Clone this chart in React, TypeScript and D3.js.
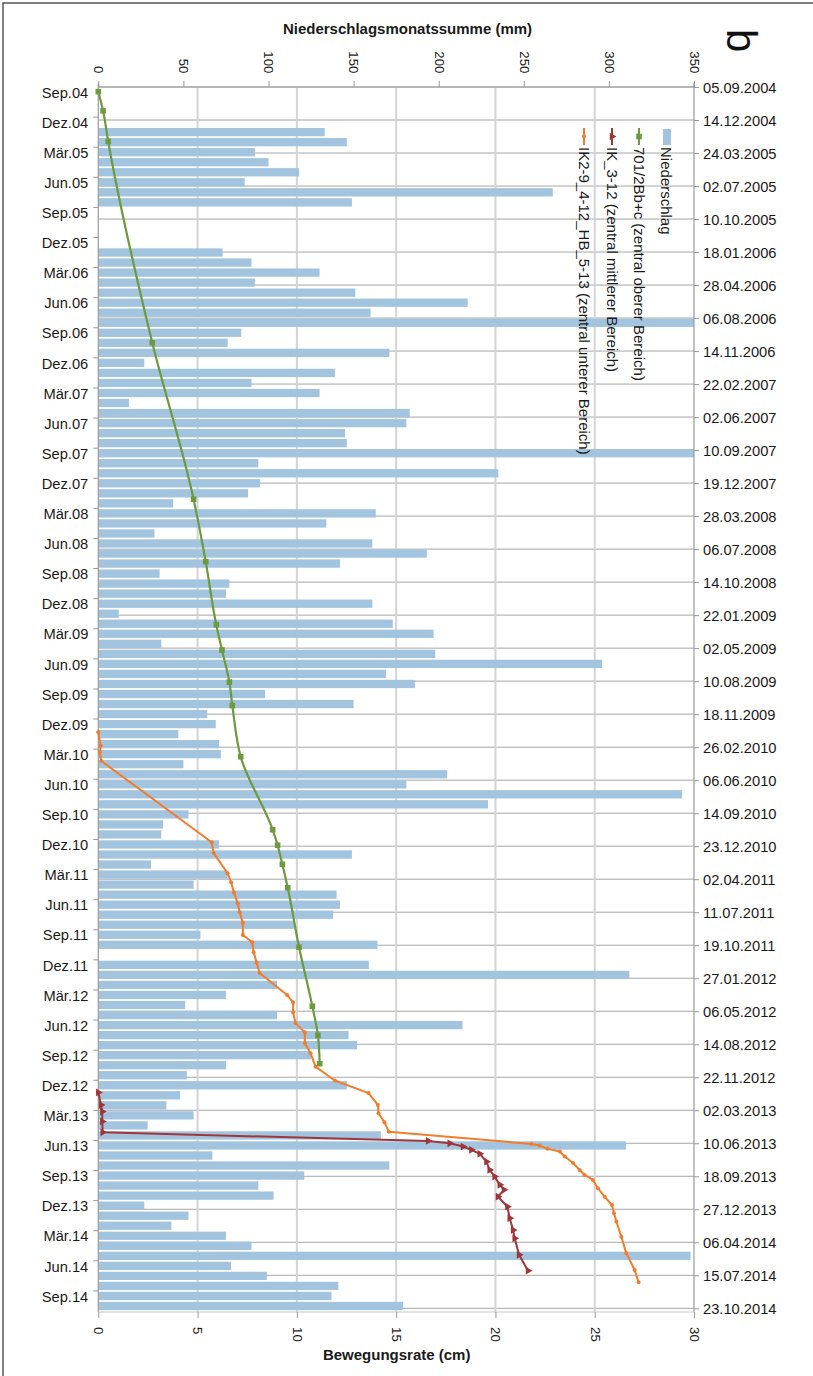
import * as d3 from "d3";
import React, { useRef, useEffect } from "react";

const width = 813;
const height = 1376;
const font = "Liberation Sans, Arial, Helvetica, sans-serif";

// category axis: one entry per month, Sep 2004 .. Oct 2014
const monthNames = ["Jan", "Feb", "Mär", "Apr", "Mai", "Jun", "Jul", "Aug", "Sep", "Okt", "Nov", "Dez"];
const firstMonth = new Date(2004, 8, 1);
const lastMonth = new Date(2014, 9, 1);

// Niederschlagsmonatssumme in mm, Sep 2004 .. Oct 2014 (null = kein Wert)
const niederschlag = [
  null, null, null, null, // 2004
  133, 146, 92, 100, 118, 86, 267, 149, null, null, null, null, // 2005
  73, 90, 130, 92, 151, 217, 160, 350, 84, 76, 171, 27, // 2006
  139, 90, 130, 18, 183, 181, 145, 146, 350, 94, 235, 95, // 2007
  88, 44, 163, 134, 33, 161, 193, 142, 36, 77, 75, 161, // 2008
  12, 173, 197, 37, 198, 296, 169, 186, 98, 150, 64, 69, // 2009
  47, 71, 72, 50, 205, 181, 343, 229, 53, 38, 37, 71, // 2010
  149, 31, 76, 56, 140, 142, 138, 115, 60, 164, null, 159, // 2011
  312, 105, 75, 51, 105, 214, 147, 152, 125, 75, 52, 146, // 2012
  48, 40, 56, 29, 166, 310, 67, 171, 121, 94, 103, 27, // 2013
  53, 43, 75, 90, 348, 78, 99, 141, 137, 179, // 2014
];

// 701/2Bb+c (zentral oberer Bereich)
const datum701 = [
  "2004-09-19", "2004-11-16", "2005-02-17", "2006-10-20", "2008-02-06", "2008-08-13",
  "2009-02-20", "2009-05-08", "2009-08-13", "2009-10-23", "2010-03-27", "2010-11-03",
  "2010-12-20", "2011-02-16", "2011-04-28", "2011-10-25", "2012-04-21", "2012-07-18", "2012-10-12",
];
const wert701 = [
  0, 0.24, 0.5, 2.72, 4.8, 5.41, 5.94, 6.23, 6.6, 6.75, 7.17, 8.78, 9.03, 9.27, 9.54, 10.11, 10.78, 11.06, 11.15,
];

// IK_3-12 (zentral mittlerer Bereich)
const datumIK3 = [
  "2013-01-07", "2013-02-14", "2013-03-06", "2013-04-05", "2013-05-08", "2013-06-03", "2013-06-10",
  "2013-06-20", "2013-06-30", "2013-07-12", "2013-08-05", "2013-08-30", "2013-09-19", "2013-10-14",
  "2013-10-29", "2013-11-19", "2013-12-19", "2014-01-23", "2014-02-28", "2014-03-25", "2014-05-14", "2014-07-01",
];
const wertIK3 = [
  0, 0.14, 0.2, 0.2, 0.22, 16.61, 17.7, 18.37, 18.79, 19.21, 19.55, 19.71, 19.96, 20.22, 20.43, 20.13, 20.6,
  20.72, 20.89, 20.97, 21.19, 21.64,
];

// IK2-9_4-12_HB_5-13 (zentral unterer Bereich)
const datumIK2 = [
  "2010-01-12", "2010-02-22", "2010-03-13", "2010-04-09", "2010-12-11", "2011-01-13", "2011-03-15",
  "2011-04-11", "2011-05-12", "2011-06-14", "2011-07-11", "2011-08-13", "2011-09-18", "2011-10-10",
  "2011-11-09", "2011-12-10", "2012-01-11", "2012-03-18", "2012-04-09", "2012-05-09", "2012-06-11",
  "2012-07-09", "2012-08-11", "2012-09-10", "2012-10-21", "2012-12-02", "2013-01-09", "2013-02-14",
  "2013-03-11", "2013-04-07", "2013-05-06", "2013-06-12", "2013-06-17", "2013-06-27", "2013-07-05",
  "2013-07-20", "2013-08-09", "2013-08-30", "2013-09-14", "2013-09-29", "2013-10-24", "2013-11-19",
  "2013-12-14", "2014-01-08", "2014-02-02", "2014-03-20", "2014-05-09", "2014-06-29", "2014-08-05",
];
const wertIK2 = [
  0, 0.12, 0.08, 0.15, 5.71, 5.81, 6.51, 6.69, 6.83, 7.02, 7.12, 7.28, 7.28, 7.75, 7.82, 7.97, 8.12, 9.51,
  9.81, 9.81, 9.93, 10.4, 10.4, 10.69, 10.94, 11.91, 13.61, 14.08, 14.11, 14.41, 14.63, 21.81, 22.23, 22.62,
  23.24, 23.49, 23.91, 24.24, 24.49, 24.91, 25.16, 25.5, 25.87, 25.97, 26.09, 26.34, 26.59, 27.01, 27.21,
];

// axis ticks
const mmTicks = [0, 50, 100, 150, 200, 250, 300, 350];
const cmTicks = [0, 5, 10, 15, 20, 25, 30];
const dateStart = new Date(2004, 8, 5);
const dateEnd = new Date(2014, 9, 23);
const dateStepDays = 100;

const legendItems = [
  { name: "Niederschlag", type: "bar", color: "#a3c4df" },
  { name: "701/2Bb+c (zentral oberer Bereich)", type: "square", color: "#6d9a3d" },
  { name: "IK_3-12 (zentral mittlerer Bereich)", type: "triangle", color: "#a0363a" },
  { name: "IK2-9_4-12_HB_5-13 (zentral unterer Bereich)", type: "circle", color: "#f27c2a" },
];

const parse = d3.timeParse("%Y-%m-%d");

function App() {
  const ref = useRef<SVGSVGElement>(null);

  useEffect(() => {
    draw();
  }, []);

  const draw = () => {
    const svg = d3.select(ref.current);
    svg.selectAll("*").remove();

    const plot = { left: 98.3, right: 694, top: 87, bottom: 1312 };

    const months = d3.timeMonth.range(firstMonth, d3.timeMonth.offset(lastMonth, 1));
    const xMm = d3.scaleLinear().domain([0, 350]).range([plot.left, plot.right]);
    const xCm = d3.scaleLinear().domain([0, 30]).range([plot.left, plot.right]);
    const yTime = d3.scaleTime().domain([dateStart, dateEnd]).range([plot.top, 1308.3]);
    const yMonth = d3
      .scalePoint<number>()
      .domain(d3.range(months.length))
      .range([92, 1306]);

    const dateTicks = d3
      .range(0, d3.timeDay.count(dateStart, dateEnd) + 1, dateStepDays)
      .map((d) => d3.timeDay.offset(dateStart, d));

    // outer frame
    svg.append("rect").attr("width", width).attr("height", height).attr("fill", "#fff");
    svg
      .append("path")
      .attr("d", `M3,${height} V3 H${width}`)
      .attr("fill", "none")
      .attr("stroke", "#555")
      .attr("stroke-width", 1.5);

    const chart = svg.append("g");

    // gridlines
    chart
      .selectAll(".hgrid")
      .data(dateTicks)
      .join("line")
      .attr("x1", plot.left)
      .attr("x2", plot.right)
      .attr("y1", (d) => yTime(d))
      .attr("y2", (d) => yTime(d))
      .attr("stroke", "#a6a6a6")
      .attr("stroke-width", 1);

    chart
      .selectAll(".vgrid")
      .data(cmTicks.slice(1, -1))
      .join("line")
      .attr("x1", (d) => xCm(d))
      .attr("x2", (d) => xCm(d))
      .attr("y1", plot.top)
      .attr("y2", plot.bottom)
      .attr("stroke", "#d4d4d4")
      .attr("stroke-width", 2);

    // bars
    svg
      .append("clipPath")
      .attr("id", "plotclip")
      .append("rect")
      .attr("x", plot.left)
      .attr("y", plot.top)
      .attr("width", plot.right - plot.left)
      .attr("height", plot.bottom - plot.top);

    const barH = 8.3;
    chart
      .append("g")
      .attr("clip-path", "url(#plotclip)")
      .selectAll("rect")
      .data(niederschlag.map((v, i) => ({ v, i })).filter((d) => d.v != null))
      .join("rect")
      .attr("x", plot.left)
      .attr("y", (d) => yMonth(d.i)! - barH / 2)
      .attr("height", barH)
      .attr("width", (d) => xMm(d.v as number) - plot.left)
      .attr("fill", "#a3c4df");

    // axis lines
    const axisLines = [
      { x1: plot.left, y1: plot.top, x2: plot.right, y2: plot.top, c: "#9a9a9a" },
      { x1: plot.left, y1: plot.top - 4, x2: plot.left, y2: plot.bottom, c: "#9a9a9a" },
      { x1: plot.right, y1: plot.top - 4, x2: plot.right, y2: plot.bottom, c: "#9a9a9a" },
      { x1: plot.left, y1: plot.bottom, x2: plot.right, y2: plot.bottom, c: "#c8c8c8" },
    ];
    chart
      .selectAll(".axline")
      .data(axisLines)
      .join("line")
      .attr("x1", (d) => d.x1)
      .attr("x2", (d) => d.x2)
      .attr("y1", (d) => d.y1)
      .attr("y2", (d) => d.y2)
      .attr("stroke", (d) => d.c)
      .attr("stroke-width", 1.2);

    // top axis (mm)
    const topAxis = chart
      .append("g")
      .attr("transform", `translate(0,${plot.top})`)
      .call(d3.axisTop(xMm).tickValues(mmTicks).tickSize(6).tickSizeOuter(0));
    topAxis.select(".domain").remove();
    topAxis.selectAll(".tick line").attr("stroke", "#999");
    topAxis
      .selectAll(".tick text")
      .attr("x", 0)
      .attr("y", 0)
      .attr("dy", "0.35em")
      .attr("transform", "translate(0,-13.5) rotate(90)")
      .attr("text-anchor", "end")
      .attr("fill", "#1a1a1a")
      .style("font-family", font)
      .style("font-size", "13.3px");

    // bottom axis (cm)
    const bottomAxis = chart
      .append("g")
      .attr("transform", `translate(0,${plot.bottom})`)
      .call(d3.axisBottom(xCm).tickValues(cmTicks).tickSize(6).tickSizeOuter(0));
    bottomAxis.select(".domain").remove();
    bottomAxis.selectAll(".tick line").attr("stroke", "#999");
    bottomAxis
      .selectAll(".tick text")
      .attr("x", 0)
      .attr("y", 0)
      .attr("dy", "0.35em")
      .attr("transform", "translate(0,15) rotate(90)")
      .attr("text-anchor", "start")
      .attr("fill", "#1a1a1a")
      .style("font-family", font)
      .style("font-size", "13.3px");

    // left axis (months)
    const labelIdx = d3.range(0, months.length, 3);
    const leftAxis = chart
      .append("g")
      .attr("transform", `translate(${plot.left},0)`)
      .call(
        d3
          .axisLeft(yMonth)
          .tickValues(labelIdx)
          .tickFormat((i) => {
            const m = months[i as number];
            return `${monthNames[m.getMonth()]}.${String(m.getFullYear()).slice(2)}`;
          })
          .tickSize(0)
          .tickPadding(10)
      );
    leftAxis.select(".domain").remove();
    leftAxis
      .selectAll(".tick text")
      .attr("dy", "0.35em")
      .attr("fill", "#1a1a1a")
      .style("font-family", font)
      .style("font-size", "14.7px");

    const step = yMonth.step();
    chart
      .selectAll(".mtick")
      .data(d3.range(2, months.length - 1, 3))
      .join("line")
      .attr("x1", plot.left - 5)
      .attr("x2", plot.left)
      .attr("y1", (i) => yMonth(i)! + step / 2)
      .attr("y2", (i) => yMonth(i)! + step / 2)
      .attr("stroke", "#999");

    // right axis (dates)
    const rightAxis = chart
      .append("g")
      .attr("transform", `translate(${plot.right},0)`)
      .call(
        d3
          .axisRight(yTime)
          .tickValues(dateTicks)
          .tickFormat((d) => d3.timeFormat("%d.%m.%Y")(d as Date))
          .tickSize(5)
          .tickPadding(4)
          .tickSizeOuter(0)
      );
    rightAxis.select(".domain").remove();
    rightAxis.selectAll(".tick line").attr("stroke", "#999");
    rightAxis
      .selectAll(".tick text")
      .attr("dy", "0.35em")
      .attr("fill", "#1a1a1a")
      .style("font-family", font)
      .style("font-size", "14.7px");

    // lines: the green series is smoothed, the inclinometer series are straight segments
    const series = [
      { dates: datum701, values: wert701, color: "#6d9a3d", marker: "square", w: 2.2, curve: d3.curveMonotoneY },
      { dates: datumIK2, values: wertIK2, color: "#f27c2a", marker: "circle", w: 2, curve: d3.curveLinear },
      { dates: datumIK3, values: wertIK3, color: "#a0363a", marker: "triangle", w: 2, curve: d3.curveLinear },
    ];

    series.forEach((s) => {
      const pts = s.dates.map((d, i) => ({ date: parse(d) as Date, v: s.values[i] }));
      const line = d3
        .line<{ date: Date; v: number }>()
        .x((d) => xCm(d.v))
        .y((d) => yTime(d.date))
        .curve(s.curve);
      const g = chart.append("g");
      g.append("path")
        .attr("d", line(pts))
        .attr("fill", "none")
        .attr("stroke", s.color)
        .attr("stroke-width", s.w)
        .attr("stroke-linejoin", "round");
      drawMarkers(g, pts.map((p) => [xCm(p.v), yTime(p.date)]), s.marker, s.color);
    });

    // titles
    chart
      .append("text")
      .attr("x", 407.5)
      .attr("y", 34.3)
      .attr("text-anchor", "middle")
      .attr("fill", "#1a1a1a")
      .style("font-family", font)
      .style("font-weight", "bold")
      .style("font-size", "15px")
      .text("Niederschlagsmonatssumme (mm)");

    chart
      .append("text")
      .attr("x", 396.7)
      .attr("y", 1360)
      .attr("text-anchor", "middle")
      .attr("fill", "#1a1a1a")
      .style("font-family", font)
      .style("font-weight", "bold")
      .style("font-size", "15px")
      .text("Bewegungsrate (cm)");

    chart
      .append("text")
      .attr("transform", "translate(727,29) rotate(90)")
      .attr("fill", "#111")
      .style("font-family", font)
      .style("font-size", "42px")
      .text("b");

    // legend (rotated)
    const legendBase = [660.5, 634, 607, 579];
    legendItems.forEach((item, i) => {
      const bx = legendBase[i];
      const g = chart.append("g");
      if (item.type === "bar") {
        g.append("rect")
          .attr("x", bx + 2.5)
          .attr("y", 129)
          .attr("width", 8)
          .attr("height", 16)
          .attr("fill", item.color);
      } else {
        g.append("line")
          .attr("x1", bx + 5)
          .attr("x2", bx + 5)
          .attr("y1", 128)
          .attr("y2", 145)
          .attr("stroke", item.color)
          .attr("stroke-width", 2);
        drawMarkers(g, [[bx + 5, 136.5]], item.type, item.color);
      }
      g.append("text")
        .attr("transform", `translate(${bx},147) rotate(90)`)
        .attr("fill", "#1a1a1a")
        .style("font-family", font)
        .style("font-size", "15px")
        .text(item.name);
    });
  };

  return (
    <div className="chart">
      <svg
        ref={ref}
        width={width}
        height={height}
        style={{ position: "absolute", left: 0, top: 0, display: "block" }}
      ></svg>
    </div>
  );
}

function drawMarkers(g: any, pts: [number, number][], type: string, color: string) {
  if (type === "square") {
    g.selectAll(".mk")
      .data(pts)
      .join("rect")
      .attr("x", (d: [number, number]) => d[0] - 2.8)
      .attr("y", (d: [number, number]) => d[1] - 2.8)
      .attr("width", 5.6)
      .attr("height", 5.6)
      .attr("fill", color);
  } else if (type === "circle") {
    g.selectAll(".mk")
      .data(pts)
      .join("circle")
      .attr("cx", (d: [number, number]) => d[0])
      .attr("cy", (d: [number, number]) => d[1])
      .attr("r", 2)
      .attr("fill", color);
  } else {
    const sym = d3.symbol().type(d3.symbolTriangle).size(26);
    g.selectAll(".mk")
      .data(pts)
      .join("path")
      .attr("d", sym())
      .attr("transform", (d: [number, number]) => `translate(${d[0]},${d[1]}) rotate(90)`)
      .attr("fill", color);
  }
}

export default App;
